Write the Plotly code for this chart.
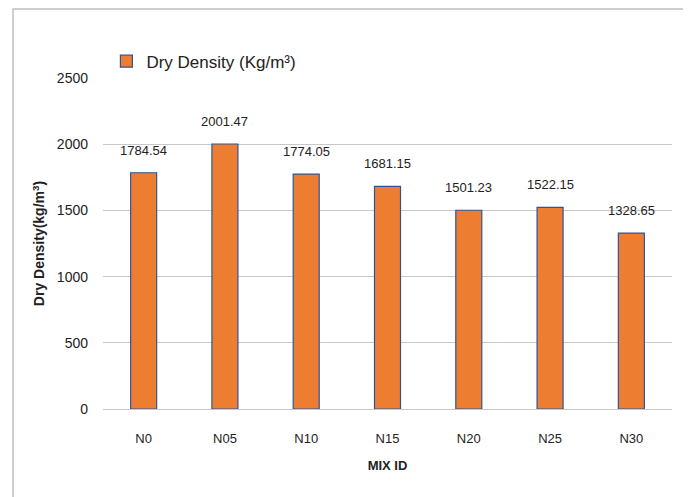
import plotly.graph_objects as go

categories = ["N0", "N05", "N10", "N15", "N20", "N25", "N30"]
dry_density = [1784.54, 2001.47, 1774.05, 1681.15, 1501.23, 1522.15, 1328.65]
value_labels = ["1784.54", "2001.47", "1774.05", "1681.15", "1501.23", "1522.15", "1328.65"]
y_ticks = [0, 500, 1000, 1500, 2000, 2500]

FONT = "Liberation Sans, Arial, sans-serif"

fig = go.Figure()
fig.add_trace(go.Bar(
    x=categories,
    y=dry_density,
    name="Dry Density (Kg/m³)",
    width=0.32,
    marker=dict(color="#ED7D31", line=dict(color="#2F5597", width=1.2)),
    showlegend=True,
))

for c, v, t in zip(categories, dry_density, value_labels):
    fig.add_annotation(x=c, y=v, text=t, showarrow=False, yanchor="bottom",
                       yshift=13, font=dict(family=FONT, size=13, color="#222222"))

fig.update_layout(
    width=683, height=489,
    margin=dict(l=95, r=19, t=70, b=88, autoexpand=False),
    paper_bgcolor="white", plot_bgcolor="white",
    font=dict(family=FONT, size=13, color="#222222"),
    bargap=0.68,
    legend=dict(x=0.006, y=0.995, xanchor="left", yanchor="bottom",
                orientation="h", font=dict(family=FONT, size=17, color="#222222"),
                bgcolor="rgba(0,0,0,0)"),
    xaxis=dict(
        showgrid=False, showline=False, ticks="", ticklabelstandoff=20,
        tickfont=dict(family=FONT, size=13, color="#222222"),
        title=dict(text="<b>MIX ID</b>", font=dict(family=FONT, size=13, color="#222222"), standoff=15),
    ),
    yaxis=dict(
        range=[0, 2500], tickvals=y_ticks, showgrid=True, gridcolor="#C8C8C8", gridwidth=1.3,
        zeroline=True, zerolinecolor="#C8C8C8", zerolinewidth=1.3,
        showline=False, ticks="", ticklabelstandoff=14,
        tickfont=dict(family=FONT, size=14, color="#222222"),
        title=dict(text="<b>Dry Density(kg/m<sup>3</sup>)</b>", font=dict(family=FONT, size=14, color="#222222"), standoff=8),
    ),
)

fig.add_shape(type="rect", xref="paper", yref="paper",
              x0=-90/569, x1=586/569, y0=-100/331, y1=(409-9)/331,
              line=dict(color="#BFBFBF", width=1.5), fillcolor="rgba(0,0,0,0)", layer="below")

fig.write_html("out.html")
